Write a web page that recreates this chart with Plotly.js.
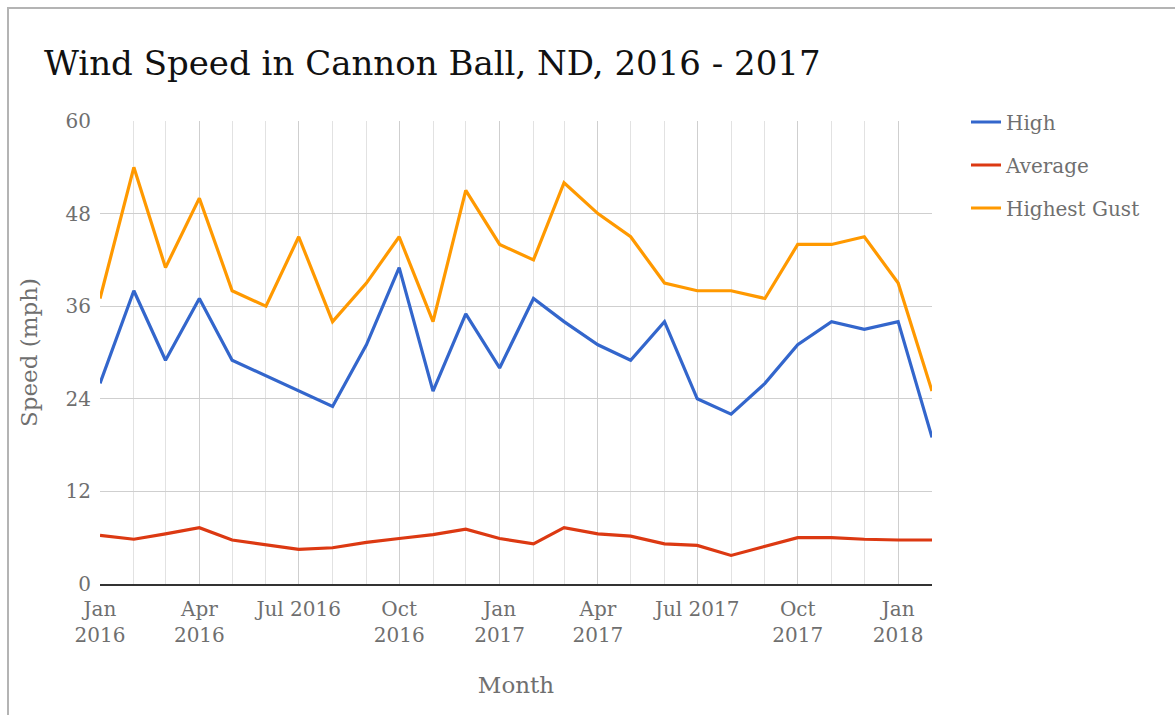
<!DOCTYPE html>
<html>
<head>
<meta charset="utf-8">
<script src="https://cdn.plot.ly/plotly-3.0.1.min.js"></script>
<style>
  html, body { margin: 0; padding: 0; background: #fff; overflow: hidden; }
  #chart { position: absolute; left: 0; top: 0; width: 1175px; height: 715px; }
  #frame {
    position: absolute; left: 7px; top: 7px; width: 1300px; height: 900px;
    border-left: 2px solid #b4b4b4; border-top: 2px solid #b4b4b4;
    pointer-events: none;
  }
</style>
</head>
<body>
<div id="chart"></div>
<div id="frame"></div>
<script>
// Monthly wind readings, Cannon Ball ND
const months = [
  '2016-01-01','2016-02-01','2016-03-01','2016-04-01','2016-05-01','2016-06-01',
  '2016-07-01','2016-08-01','2016-09-01','2016-10-01','2016-11-01','2016-12-01',
  '2017-01-01','2017-02-01','2017-03-01','2017-04-01','2017-05-01','2017-06-01',
  '2017-07-01','2017-08-01','2017-09-01','2017-10-01','2017-11-01','2017-12-01',
  '2018-01-01','2018-02-01'
];
const high = [26,38,29,37,29,27,25,23,31,41,25,35,28,37,34,31,29,34,24,22,26,31,34,33,34,19];
const average = [6.3,5.8,6.5,7.3,5.7,5.1,4.5,4.7,5.4,5.9,6.4,7.1,5.9,5.2,7.3,6.5,6.2,5.2,5.0,3.7,4.9,6.0,6.0,5.8,5.7,5.7];
const highestGust = [37,54,41,50,38,36,45,34,39,45,34,51,44,42,52,48,45,39,38,38,37,44,44,45,39,25];

const tickDates = ['2016-01-01','2016-04-01','2016-07-01','2016-10-01','2017-01-01','2017-04-01','2017-07-01','2017-10-01','2018-01-01'];
const tickLabels = ['Jan<br>2016','Apr<br>2016','Jul 2016','Oct<br>2016','Jan<br>2017','Apr<br>2017','Jul 2017','Oct<br>2017','Jan<br>2018'];
const yTicks = [0,12,24,36,48,60];

const FONT = 'DejaVu Serif, Liberation Serif, serif';
const GREY = '#6f6f6f';

const series = [
  {name: 'High', y: high, color: '#3366cc'},
  {name: 'Average', y: average, color: '#dc3912'},
  {name: 'Highest Gust', y: highestGust, color: '#ff9900'}
];

const traces = series.map((s, i) => ({
  type: 'scatter', mode: 'lines', x: months, y: s.y, name: s.name,
  legendgroup: 'g' + i,
  line: {color: s.color, width: 3.2}
}));

const layout = {
  width: 1175, height: 715,
  margin: {l: 100, r: 243, t: 121, b: 131},
  paper_bgcolor: '#fff', plot_bgcolor: '#fff',
  font: {family: FONT, color: GREY, size: 20},
  title: {
    text: 'Wind Speed in Cannon Ball, ND, 2016 - 2017',
    font: {family: FONT, size: 34, color: '#111'},
    xref: 'container', yref: 'container',
    x: 44 / 1175, xanchor: 'left',
    y: 1 - 51 / 715, yanchor: 'top'
  },
  xaxis: {
    type: 'date',
    range: ['2016-01-01', '2018-02-01'],
    tickmode: 'array', tickvals: tickDates, ticktext: tickLabels,
    ticks: '', showgrid: true, gridcolor: '#cfcfcf', gridwidth: 1,
    minor: {tickmode: 'linear', tick0: '2016-01-01', dtick: 'M1', showgrid: true, gridcolor: '#e2e2e2', gridwidth: 1, ticks: ''},
    showline: true, linecolor: '#333', linewidth: 2,
    zeroline: false,
    tickfont: {family: FONT, size: 20, color: GREY},
    ticklabelstandoff: 6,
    title: {text: 'Month', font: {family: FONT, size: 23, color: GREY}, standoff: 31},
    automargin: false, fixedrange: true
  },
  yaxis: {
    range: [0, 60],
    tickmode: 'array', tickvals: yTicks,
    ticks: '', showgrid: true, gridcolor: '#cfcfcf', gridwidth: 1,
    zeroline: false, showline: false,
    tickfont: {family: FONT, size: 20, color: GREY},
    ticklabelstandoff: 8,
    title: {text: 'Speed (mph)', font: {family: FONT, size: 23, color: GREY}, standoff: 21},
    automargin: false, fixedrange: true
  },
  showlegend: true,
  legend: {
    x: (966 - 100) / 832, xanchor: 'left',
    y: 1.04, yanchor: 'top',
    traceorder: 'grouped', tracegroupgap: 14,
    font: {family: FONT, size: 20, color: GREY},
    bgcolor: 'rgba(0,0,0,0)'
  }
};

Plotly.newPlot('chart', traces, layout, {displayModeBar: false, staticPlot: true});
</script>
</body>
</html>
